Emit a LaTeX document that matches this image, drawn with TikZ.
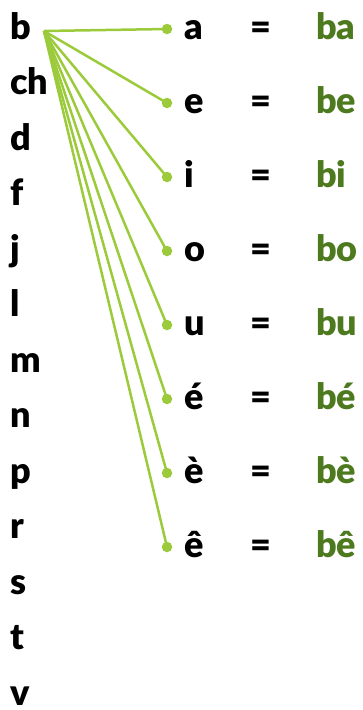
\documentclass[tikz,border=0pt]{standalone}
\usepackage{fontspec}
\setmainfont{Lato}[BoldFont={Lato Black}]
\definecolor{linegreen}{HTML}{9BCB3B}
\definecolor{textgreen}{HTML}{4E7A1F}
\begin{document}
\begin{tikzpicture}[x=1pt,y=-1pt,
  lbl/.style={inner sep=0pt,anchor=base west,font=\fontsize{36}{42}\selectfont\bfseries},
  eqs/.style={inner sep=0pt,anchor=base,font=\fontsize{36}{42}\selectfont\bfseries},
  syl/.style={lbl,text=textgreen},
  dotn/.style={circle,fill=linegreen,inner sep=0pt,minimum size=10.5pt},
  conn/.style={draw=linegreen,line width=2.5pt}]
\useasboundingbox (0,0) rectangle (362,710);
\foreach \c [count=\k from 0] in {b,ch,d,f,j,l,m,n,p,r,s,t,v}{
  \node[lbl] (c\k) at (10,{39+55.5*\k}) {\c};
}
\coordinate (o) at (44,31);
\foreach \v [count=\j from 0] in {a,e,i,o,u,é,è,ê}{
  \node[dotn] (d\j) at (167,{29+74*\j}) {};
  \node[lbl] (v\j) at (184,{39+74*\j}) {\v};
  \node[eqs] (q\j) at (261,{39+74*\j}) {=};
  \node[syl] (s\j) at (316,{39+74*\j}) {b\v};
  \draw[conn] (o) -- (d\j.center);
}
\end{tikzpicture}
\end{document}
